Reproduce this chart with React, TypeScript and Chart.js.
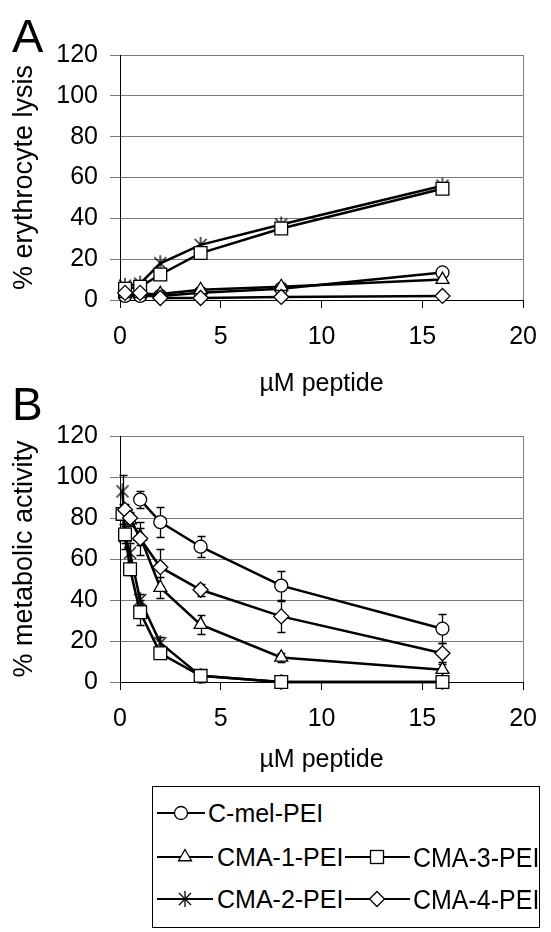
import React, { useEffect, useRef } from 'react';
import { Chart, registerables } from 'chart.js';
Chart.register(...registerables);

const FONT = "'Liberation Sans', Arial, sans-serif";

const seriesNames = ['C-mel-PEI', 'CMA-1-PEI', 'CMA-2-PEI', 'CMA-3-PEI', 'CMA-4-PEI'];
const xTicks = [0, 5, 10, 15, 20];
const yTicks = [0, 20, 40, 60, 80, 100, 120];

// Panel A: % erythrocyte lysis
const xA = [0.25, 1, 2, 4, 8, 16];
const lysisCmel = [2, 2, 2, 3.5, 5.5, 13.5];
const lysisCma1 = [3, 3, 3, 5, 6.5, 10];
const lysisCma2 = [7, 8, 18, 27, 37, 56];
const lysisCma3 = [5.5, 6.5, 12.5, 23, 35, 54.5];
const lysisCma4 = [3.5, 3.5, 1, 1, 1.5, 2];

// Panel B: % metabolic activity
const xB = [0.125, 0.25, 0.5, 1, 2, 4, 8, 16];
const activityCmel = [null, null, null, 89, 78, 66, 47, 26];
const activityCma1 = [null, 83, 79, 71, 46, 28, 12, 6];
const activityCma2 = [93, 71, 63, 40, 19, 3, 0, 0];
const activityCma3 = [82, 72, 55, 34, 14, 3, 0, 0];
const activityCma4 = [null, 84, 80, 70, 56, 45, 32, 14];
const errCmel = [0, 0, 0, 4, 7.5, 5, 7, 7];
const errCma1 = [0, 3, 3, 4, 5, 4.5, 2, 4];
const errCma2 = [8, 6, 5, 3, 3, 3, 2, 0];
const errCma3 = [5, 4, 3, 6, 2, 3, 0, 0];
const errCma4 = [0, 3, 3, 8, 9, 3, 7.5, 5];

function makeStar() {
  const c = document.createElement('canvas');
  c.width = 16;
  c.height = 18;
  const g = c.getContext('2d')!;
  g.strokeStyle = '#000';
  g.lineWidth = 1.3;
  g.beginPath();
  g.moveTo(2, 3); g.lineTo(14, 15);
  g.moveTo(14, 3); g.lineTo(2, 15);
  g.moveTo(8, 1); g.lineTo(8, 17);
  g.stroke();
  return c;
}

const errorBarPlugin = {
  id: 'errorBars',
  beforeDatasetsDraw(chart: any) {
    const ctx = chart.ctx;
    const yScale = chart.scales.y;
    ctx.save();
    ctx.strokeStyle = '#000';
    ctx.lineWidth = 1.3;
    chart.data.datasets.forEach((ds: any, di: number) => {
      const errs = ds.errors;
      if (!errs) return;
      const meta = chart.getDatasetMeta(di);
      meta.data.forEach((pt: any, i: number) => {
        const e = errs[i];
        if (!e) return;
        const v = ds.data[i].y;
        const yT = Math.round(yScale.getPixelForValue(v + e)) + 0.5;
        const yB = Math.round(yScale.getPixelForValue(v - e)) + 0.5;
        const x = Math.round(pt.x) + 0.5;
        ctx.beginPath();
        ctx.moveTo(x, yT); ctx.lineTo(x, yB);
        ctx.moveTo(x - 4, yT); ctx.lineTo(x + 4, yT);
        ctx.moveTo(x - 4, yB); ctx.lineTo(x + 4, yB);
        ctx.stroke();
      });
    });
    ctx.restore();
  },
};

function buildConfig(xs: number[], series: (number | null)[][], errs: number[][] | null, yTitle: string, padTop: number, xAxisH: number, xTitlePad: number, star: HTMLCanvasElement) {
  const styles: any[] = ['circle', 'triangle', star, 'rect', 'rectRot'];
  const radii = [6.5, 7.5, 7, 9, 7.5];
  const datasets = series.map((vals, si) => {
    const data: any[] = [];
    const e: number[] = [];
    xs.forEach((x, i) => {
      if (vals[i] !== null && vals[i] !== undefined) {
        data.push({ x, y: vals[i] });
        e.push(errs ? errs[si][i] : 0);
      }
    });
    return {
      label: seriesNames[si],
      data,
      errors: errs ? e : null,
      borderColor: '#000',
      borderWidth: 2.5,
      pointStyle: styles[si],
      pointRadius: radii[si],
      pointBackgroundColor: '#fff',
      pointBorderColor: '#000',
      pointBorderWidth: 1.3,
      tension: 0,
      clip: false,
      order: -si,
    };
  });
  return {
    type: 'line',
    data: { datasets },
    plugins: [errorBarPlugin],
    options: {
      animation: false,
      responsive: false,
      layout: { padding: { top: padTop, right: 17, left: 0, bottom: 0 } },
      plugins: { legend: { display: false }, tooltip: { enabled: false } },
      scales: {
        x: {
          type: 'linear',
          min: 0,
          max: 20,
          afterBuildTicks: (s: any) => { s.ticks = xTicks.map((v) => ({ value: v })); },
          afterFit: (s: any) => { s.height = xAxisH; },
          ticks: { color: '#000', font: { family: FONT, size: 25 }, padding: 14, maxRotation: 0 },
          grid: {
            color: (c: any) => (c.tick && c.tick.value === 20 ? '#808080' : 'rgba(0,0,0,0)'),
            tickColor: '#000',
            tickLength: 8,
            lineWidth: 1,
          },
          border: { color: '#000', width: 1 },
          title: { display: true, text: 'µM peptide', color: '#000', font: { family: FONT, size: 25 }, padding: { top: 0, bottom: xTitlePad } },
        },
        y: {
          type: 'linear',
          min: 0,
          max: 120,
          afterBuildTicks: (s: any) => { s.ticks = yTicks.map((v) => ({ value: v })); },
          afterFit: (s: any) => { s.width = 120; },
          ticks: { color: '#000', font: { family: FONT, size: 25 }, padding: 12 },
          grid: { color: '#7a7a7a', tickColor: '#7a7a7a', tickLength: 10, lineWidth: 1 },
          border: { color: '#000', width: 1 },
          title: { display: true, text: yTitle, color: '#000', font: { family: FONT, size: 27 }, padding: { top: 8, bottom: 0 } },
        },
      },
    },
  };
}

function Legend() {
  const f1 = 25;
  const f2 = 25;
  const stretch = 1.12;
  const centers = [33, 77, 119];
  const base1 = centers.map((c) => c + 0.358 * f1);
  const base2 = centers.map((c) => c + 0.358 * f2 * stretch);
  const lineSeg = (x1: number, x2: number, y: number) => (
    <line x1={x1} x2={x2} y1={y} y2={y} stroke="#000" strokeWidth={2.2} />
  );
  const cxA = 181;
  const cxB = 185;
  const cx2 = 377;
  const m = centers;
  return (
    <svg width={551} height={152} style={{ position: 'absolute', left: 0, top: 780 }}>
      <rect x={152.5} y={6.5} width={387} height={141} fill="#fff" stroke="#000" strokeWidth={1} />
      {lineSeg(157, 205, m[0])}
      <circle cx={cxA} cy={m[0]} r={6.5} fill="#fff" stroke="#000" strokeWidth={1.3} />
      <text x={208} y={base1[0]} fontFamily={FONT} fontSize={f1} fill="#000">{seriesNames[0]}</text>
      {lineSeg(157, 213, m[1])}
      <polygon points={`${cxB},${m[1] - 7.5} ${cxB + 6.5},${m[1] + 3.75} ${cxB - 6.5},${m[1] + 3.75}`} fill="#fff" stroke="#000" strokeWidth={1.3} />
      <text x={217} y={base1[1]} fontFamily={FONT} fontSize={f1} fill="#000">{seriesNames[1]}</text>
      {lineSeg(157, 213, m[2])}
      <g stroke="#000" strokeWidth={1.3}>
        <line x1={cxB - 6} y1={m[2] - 6} x2={cxB + 6} y2={m[2] + 6} />
        <line x1={cxB + 6} y1={m[2] - 6} x2={cxB - 6} y2={m[2] + 6} />
        <line x1={cxB} y1={m[2] - 8} x2={cxB} y2={m[2] + 8} />
      </g>
      <text x={217} y={base1[2]} fontFamily={FONT} fontSize={f1} fill="#000">{seriesNames[2]}</text>
      {lineSeg(345, 410, m[1])}
      <rect x={cx2 - 6.5} y={m[1] - 6.5} width={13} height={13} fill="#fff" stroke="#000" strokeWidth={1.3} />
      <text transform={`translate(413 ${base2[1]}) scale(1 ${stretch})`} x={0} y={0} fontFamily={FONT} fontSize={f2} fill="#000">{seriesNames[3]}</text>
      {lineSeg(345, 410, m[2])}
      <polygon points={`${cx2},${m[2] - 7.5} ${cx2 + 7.5},${m[2]} ${cx2},${m[2] + 7.5} ${cx2 - 7.5},${m[2]}`} fill="#fff" stroke="#000" strokeWidth={1.3} />
      <text transform={`translate(413 ${base2[2]}) scale(1 ${stretch})`} x={0} y={0} fontFamily={FONT} fontSize={f2} fill="#000">{seriesNames[4]}</text>
    </svg>
  );
}

export default function App() {
  const refA = useRef<HTMLCanvasElement>(null);
  const refB = useRef<HTMLCanvasElement>(null);
  useEffect(() => {
    const star = makeStar();
    const cA = new Chart(refA.current!, buildConfig(xA, [lysisCmel, lysisCma1, lysisCma2, lysisCma3, lysisCma4], null, '% erythrocyte lysis', 55, 110, 11, star) as any);
    const cB = new Chart(refB.current!, buildConfig(xB, [activityCmel, activityCma1, activityCma2, activityCma3, activityCma4], [errCmel, errCma1, errCma2, errCma3, errCma4], '% metabolic activity', 56, 98, 5, star) as any);
    return () => { cA.destroy(); cB.destroy(); };
  }, []);
  const labelStyle: React.CSSProperties = { position: 'absolute', fontFamily: FONT, fontSize: 47, lineHeight: 1, color: '#000' };
  return (
    <div style={{ position: 'absolute', left: 0, top: 0, width: 551, height: 932, background: '#fff', overflow: 'hidden' }}>
      <canvas ref={refA} width={551} height={410} style={{ position: 'absolute', left: 0, top: 0 }} />
      <canvas ref={refB} width={551} height={400} style={{ position: 'absolute', left: 0, top: 380 }} />
      <div style={{ ...labelStyle, left: 12, top: 12 }}>A</div>
      <div style={{ ...labelStyle, left: 12, top: 381, fontSize: 46 }}>B</div>
      <Legend />
    </div>
  );
}
